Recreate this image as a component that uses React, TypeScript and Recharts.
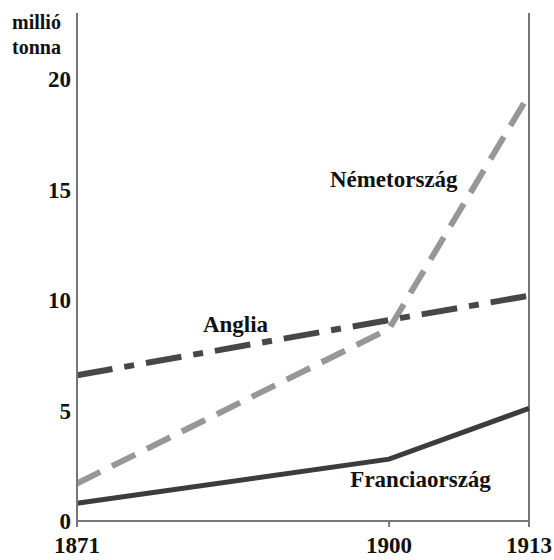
import React from "react";
import { LineChart, Line, XAxis, YAxis, ReferenceLine, ReferenceDot } from "recharts";

const years = [1871, 1900, 1913];
const anglia = [6.6, 9.1, 10.2];
const nemetorszag = [1.7, 8.7, 19.3];
const franciaorszag = [0.8, 2.8, 5.1];
const yTicks = [0, 5, 10, 15, 20];
const xTicks = [1871, 1900, 1913];

const seriesLabels = [
  { text: "Németország", year: 1894.5, value: 15.1 },
  { text: "Anglia", year: 1882.7, value: 8.55 },
  { text: "Franciaország", year: 1896.4, value: 1.55 },
];

const data = years.map((y, i) => ({
  year: y,
  anglia: anglia[i],
  nemet: nemetorszag[i],
  francia: franciaorszag[i],
}));

const FONT = "Liberation Serif, DejaVu Serif, Times New Roman, serif";

const makeLabel = (text: string) => (props: any) => {
  const vb = props.viewBox || {};
  const x = vb.x + (vb.width || 0) / 2;
  const y = vb.y + (vb.height || 0) / 2;
  return (
    <text x={x} y={y} style={{ fontFamily: FONT }} fontWeight="bold" fontSize={23} fill="#111" textAnchor="start">
      {text}
    </text>
  );
};

export default function App() {
  return (
    <div style={{ position: "absolute", left: 0, top: 0, width: 554, height: 560, background: "#fff", fontFamily: FONT }}>
      <div
        style={{
          position: "absolute",
          left: 12,
          top: 10,
          fontFamily: FONT,
          fontWeight: "bold",
          fontSize: 20,
          lineHeight: "25px",
          color: "#111",
        }}
      >
        millió
        <br />
        tonna
      </div>
      <LineChart width={554} height={560} data={data} margin={{ top: 13, right: 25, left: 0, bottom: 0 }} style={{ fontFamily: FONT }}>
        <XAxis
          dataKey="year"
          type="number"
          domain={[1871, 1913]}
          ticks={xTicks}
          height={39}
          tickSize={6}
          tickMargin={10}
          axisLine={{ stroke: "#777", strokeWidth: 2 }}
          tickLine={{ stroke: "#777", strokeWidth: 2 }}
          tick={{ fontFamily: FONT, fontWeight: "bold", fontSize: 23, fill: "#111" }}
        />
        <YAxis
          type="number"
          domain={[0, 23]}
          ticks={yTicks}
          width={77}
          tickSize={0}
          tickMargin={6}
          tickLine={false}
          axisLine={{ stroke: "#777", strokeWidth: 2 }}
          tick={{ fontFamily: FONT, fontWeight: "bold", fontSize: 23, fill: "#111" }}
        />
        <ReferenceLine x={1913} stroke="#777" strokeWidth={2} />
        <Line
          type="linear"
          dataKey="nemet"
          stroke="#979797"
          strokeWidth={6}
          strokeDasharray="26 13"
          dot={false}
          isAnimationActive={false}
        />
        <Line
          type="linear"
          dataKey="anglia"
          stroke="#474747"
          strokeWidth={6}
          strokeDasharray="36 12 10 12"
          dot={false}
          isAnimationActive={false}
        />
        <Line
          type="linear"
          dataKey="francia"
          stroke="#3c3c3c"
          strokeWidth={5}
          dot={false}
          isAnimationActive={false}
        />
        {seriesLabels.map((l) => (
          <ReferenceDot
            key={l.text}
            x={l.year}
            y={l.value}
            r={0}
            stroke="none"
            fill="none"
            label={makeLabel(l.text)}
          />
        ))}
      </LineChart>
    </div>
  );
}
